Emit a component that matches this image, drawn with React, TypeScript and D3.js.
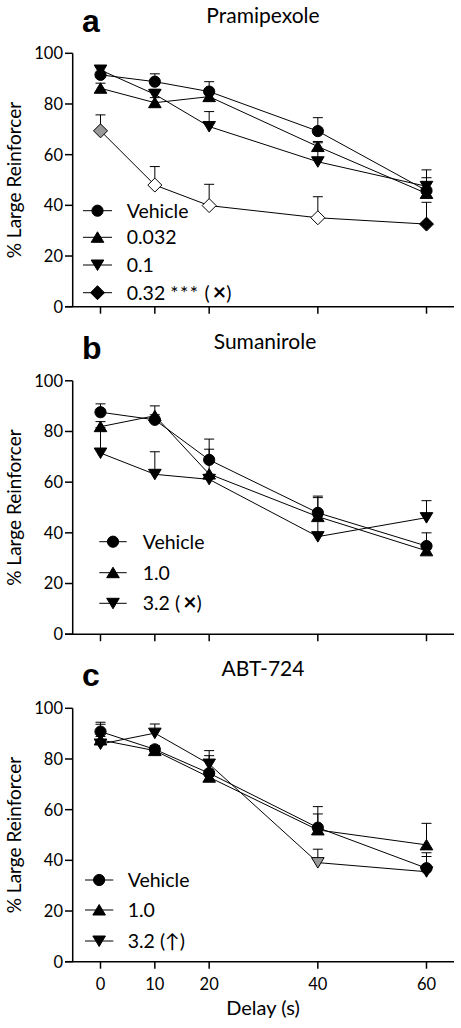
import React from 'react';
import * as d3 from 'd3';

// ---------- data ----------
const delays = [0, 10, 20, 40, 60];
const xTicks = [0, 10, 20, 40, 60];
const yTicks = [0, 20, 40, 60, 80, 100];

// Panel a — Pramipexole
const pramVehicle = [91.5, 88.8, 84.9, 69.3, 45.8];
const pramVehicleErr = [3.2, 3.1, 3.9, 5.3, 8.2];
const pram0032 = [86.2, 80.5, 82.9, 63.2, 44.7];
const pram0032Err = [2.0, 2.0, 2.5, 2.0, 2.0];
const pram01 = [93.4, 83.8, 71.1, 57.2, 47.5];
const pram01Err = [1.3, 2.0, 5.9, 7.5, 3.4];
const pram032 = [69.4, 48.0, 39.9, 35.1, 32.6];
const pram032Err = [6.3, 7.3, 8.4, 8.3, 8.6];
const pram032Fill = ['#999999', '#ffffff', '#ffffff', '#ffffff', '#000000'];

// Panel b — Sumanirole
const sumaVehicle = [87.6, 84.6, 68.8, 47.9, 34.8];
const sumaVehicleErr = [3.3, 2.0, 8.2, 6.6, 5.2];
const suma10 = [81.9, 86.2, 63.2, 46.4, 32.9];
const suma10Err = [2.0, 3.9, 9.8, 7.5, 2.0];
const suma32 = [71.5, 63.1, 61.1, 38.5, 46.0];
const suma32Err = [10.0, 8.9, 2.0, 8.0, 6.7];

// Panel c — ABT-724
const abtVehicle = [90.8, 83.8, 74.4, 52.9, 36.9];
const abtVehicleErr = [3.7, 1.5, 6.9, 8.3, 6.1];
const abt10 = [87.5, 83.3, 72.8, 52.0, 46.1];
const abt10Err = [6.2, 1.5, 1.5, 6.3, 8.5];
const abt32 = [85.9, 90.2, 78.0, 39.1, 35.5];
const abt32Err = [3.0, 3.6, 5.3, 5.3, 6.0];
const abt32Fill = ['#000000', '#000000', '#000000', '#999999', '#000000'];

const panelTitles = ['Pramipexole', 'Sumanirole', 'ABT-724'];
const panelLetters = ['a', 'b', 'c'];

type Shape = 'circle' | 'up' | 'down' | 'diamond';
interface Series {
  label: React.ReactNode;
  shape: Shape;
  values: number[];
  errs: number[];
  fills?: string[];
}

const Cross = () => (
  <>
    (<tspan dx={3} fontWeight="bold" fontSize={23}>×</tspan>)
  </>
);

const panelSeries: Series[][] = [
  [
    { label: 'Vehicle', shape: 'circle', values: pramVehicle, errs: pramVehicleErr },
    { label: '0.032', shape: 'up', values: pram0032, errs: pram0032Err },
    { label: '0.1', shape: 'down', values: pram01, errs: pram01Err },
    {
      label: (
        <>
          0.32 <tspan letterSpacing={1.5}>***</tspan> <Cross />
        </>
      ),
      shape: 'diamond',
      values: pram032,
      errs: pram032Err,
      fills: pram032Fill,
    },
  ],
  [
    { label: 'Vehicle', shape: 'circle', values: sumaVehicle, errs: sumaVehicleErr },
    { label: '1.0', shape: 'up', values: suma10, errs: suma10Err },
    {
      label: (
        <>
          3.2 <Cross />
        </>
      ),
      shape: 'down',
      values: suma32,
      errs: suma32Err,
    },
  ],
  [
    { label: 'Vehicle', shape: 'circle', values: abtVehicle, errs: abtVehicleErr },
    { label: '1.0', shape: 'up', values: abt10, errs: abt10Err },
    { label: '3.2 (↑)', shape: 'down', values: abt32, errs: abt32Err, fills: abt32Fill },
  ],
];

// ---------- layout ----------
const W = 461;
const H = 1028;
const FONT = 'Lato, "Open Sans", sans-serif';
const panelTops = [53.3, 380.8, 708.3];
const plotH = 253.4;
const axisX = 72.7;
const titleY = [22.7, 349.3, 676];
const titleX = [263, 265, 263];
const letterY = [31.7, 359.3, 686];
const legendLayout = [
  { x1: 83, x2: 112, tx: 126.7, rows: [157.4, 184, 211.7, 239.4] },
  { x1: 99.3, x2: 126.7, tx: 142.7, rows: [160.9, 191.9, 222.5] },
  { x1: 85, x2: 113.3, tx: 127.7, rows: [171.7, 201.7, 232.7] },
];

const x = d3.scaleLinear().domain([0, 60]).range([100.5, 426.5]);

function shapePath(shape: Shape): string {
  switch (shape) {
    case 'circle':
      return d3.symbol(d3.symbolCircle, Math.PI * 5.6 * 5.6)() as string;
    case 'up':
      return 'M0,-5.5L6.3,5L-6.3,5Z';
    case 'down':
      return 'M0,5.5L6.3,-5L-6.3,-5Z';
    case 'diamond':
      return 'M0,-7L7,0L0,7L-7,0Z';
  }
}

function Panel({ idx }: { idx: number }) {
  const top = panelTops[idx];
  const bottom = top + plotH;
  const y = d3.scaleLinear().domain([0, 100]).range([bottom, top]);
  const series = panelSeries[idx];
  const leg = legendLayout[idx];
  const line = d3
    .line<number>()
    .x((_, i) => x(delays[i]))
    .y((v) => y(v));

  return (
    <g>
      <text
        x={82}
        y={letterY[idx]}
        fontFamily='"Liberation Sans", Arial, sans-serif'
        fontWeight="bold"
        fontSize={32}
      >
        {panelLetters[idx]}
      </text>
      <text x={titleX[idx]} y={titleY[idx]} textAnchor="middle" fontFamily={FONT} fontSize={21}>
        {panelTitles[idx]}
      </text>

      {/* axes */}
      <line x1={axisX} x2={axisX} y1={top} y2={bottom} stroke="#000" strokeWidth={1.5} />
      <line x1={65} x2={454} y1={bottom} y2={bottom} stroke="#000" strokeWidth={1.5} />
      {yTicks.map((t) => (
        <g key={t}>
          <line x1={65} x2={axisX} y1={y(t)} y2={y(t)} stroke="#000" strokeWidth={1.5} />
          <text
            x={63}
            y={y(t)}
            dy="0.36em"
            textAnchor="end"
            fontFamily={FONT}
            fontSize={16.5}
          >
            {t}
          </text>
        </g>
      ))}
      {xTicks.map((t) => (
        <g key={t}>
          <line x1={x(t)} x2={x(t)} y1={bottom} y2={bottom + 7} stroke="#000" strokeWidth={1.5} />
          {idx === 2 && (
            <text x={x(t)} y={990} textAnchor="middle" fontFamily={FONT} fontSize={16.5}>
              {t}
            </text>
          )}
        </g>
      ))}
      <text
        transform={`translate(21,${(top + bottom) / 2}) rotate(-90)`}
        textAnchor="middle"
        fontFamily={FONT}
        fontSize={19}
      >
        % Large Reinforcer
      </text>
      {idx === 2 && (
        <text x={263} y={1015} textAnchor="middle" fontFamily={FONT} fontSize={20}>
          Delay (s)
        </text>
      )}

      {/* lines and error bars */}
      {series.map((s, si) => (
        <g key={'l' + si}>
          <path d={line(s.values) as string} fill="none" stroke="#000" strokeWidth={1} />
          {s.values.map((v, i) => (
            <g key={i}>
              <line x1={x(delays[i])} x2={x(delays[i])} y1={y(v)} y2={y(v + s.errs[i])} stroke="#000" strokeWidth={1} />
              <line
                x1={x(delays[i]) - 5}
                x2={x(delays[i]) + 5}
                y1={y(v + s.errs[i])}
                y2={y(v + s.errs[i])}
                stroke="#000"
                strokeWidth={1}
              />
            </g>
          ))}
        </g>
      ))}
      {/* markers */}
      {series.map((s, si) => (
        <g key={'m' + si}>
          {s.values.map((v, i) => (
            <path
              key={i}
              d={shapePath(s.shape)}
              transform={`translate(${x(delays[i])},${y(v)})`}
              fill={s.fills ? s.fills[i] : '#000'}
              stroke="#000"
              strokeWidth={1}
            />
          ))}
        </g>
      ))}

      {/* legend */}
      {series.map((s, si) => {
        const ry = top + leg.rows[si];
        return (
          <g key={'g' + si}>
            <line x1={leg.x1} x2={leg.x2} y1={ry} y2={ry} stroke="#000" strokeWidth={1} />
            <path
              d={shapePath(s.shape)}
              transform={`translate(${(leg.x1 + leg.x2) / 2},${ry})`}
              fill="#000"
              stroke="#000"
              strokeWidth={1}
            />
            <text x={leg.tx} y={ry} dy="0.36em" fontFamily={FONT} fontSize={19.5}>
              {s.label}
            </text>
          </g>
        );
      })}
    </g>
  );
}

export default function App() {
  return (
    <svg
      width={W}
      height={H}
      viewBox={`0 0 ${W} ${H}`}
      style={{ position: 'absolute', left: 0, top: 0, background: '#fff' }}
    >
      <rect width={W} height={H} fill="#fff" />
      {[0, 1, 2].map((i) => (
        <Panel key={i} idx={i} />
      ))}
    </svg>
  );
}
